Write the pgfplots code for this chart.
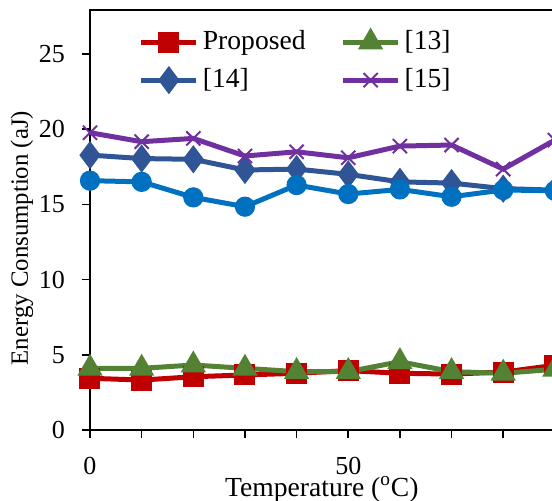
\documentclass[border=0pt]{standalone}
\usepackage{fontspec}
\setmainfont{Liberation Serif}
\usepackage{pgfplots}
\pgfplotsset{compat=1.18}

\definecolor{cProp}{HTML}{C00000}
\definecolor{cThirteen}{HTML}{548235}
\definecolor{cFourteen}{HTML}{2F5597}
\definecolor{cFifteen}{HTML}{7030A0}
\definecolor{cLight}{HTML}{0070C0}

\begin{document}
\begin{tikzpicture}
\begin{axis}[
    scale only axis, width=237.6pt, height=210pt,
    xmin=0, xmax=92, ymin=0, ymax=27.93,
    axis line style={line width=1pt},
    xtick={0,50}, minor xtick={10,20,...,90}, xtick pos=left,
    ytick={0,5,...,25}, ytick pos=left,
    tick align=outside, major tick length=4pt, minor tick length=4pt,
    tick style={line width=0.8pt, black},
    /pgf/number format/assume math mode=true,
    xticklabel style={font=\fontsize{13}{15}\selectfont},
    yticklabel style={font=\fontsize{13}{15}\selectfont},
    xticklabel shift=6pt, yticklabel shift=5pt,
    xlabel={Temperature (\textsuperscript{o}C)},
    ylabel={Energy Consumption (aJ)},
    xlabel style={font=\fontsize{13.8}{16}\selectfont, at={(axis description cs:0.488,-0.141)}, anchor=center},
    ylabel style={font=\fontsize{12.4}{14}\selectfont, at={(axis description cs:-0.143,0.457)}, anchor=center},
    legend columns=2, legend cell align=left,
    legend style={draw=none, fill=none, font=\fontsize{13.8}{16}\selectfont,
        at={(axis description cs:0.102,0.965)}, anchor=north west,
        inner sep=0pt, row sep=2pt,
        nodes={inner sep=2pt, text height=10pt, text depth=3pt},
        /tikz/every even column/.append style={column sep=15.5pt}},
    legend image code/.code={\draw[mark repeat=2,mark phase=2,#1] plot coordinates {(0pt,0pt) (13.75pt,0pt) (27.5pt,0pt)};},
]
\addplot[cProp, line width=2.5pt, mark=square*, mark size=4pt, mark options={solid}] coordinates {
(0,3.44)(10,3.32)(20,3.54)(30,3.66)(40,3.77)(50,3.95)(60,3.77)(70,3.72)(80,3.85)(90,4.3)};
\addlegendentry{Proposed}
\addplot[cThirteen, line width=2.5pt, mark=triangle*, mark size=4.8pt, mark options={solid}] coordinates {
(0,4.1)(10,4.1)(20,4.32)(30,4.1)(40,3.88)(50,3.88)(60,4.54)(70,3.88)(80,3.77)(90,4.04)};
\addlegendentry{[13]}
\addplot[cFourteen, line width=2.5pt, mark=diamond*, mark size=5pt, mark options={solid}] coordinates {
(0,18.28)(10,18.05)(20,18.0)(30,17.29)(40,17.35)(50,17.0)(60,16.5)(70,16.42)(80,16.05)(90,15.95)};
\addlegendentry{[14]}
\addplot[cFifteen, line width=2.5pt, mark=x, mark size=5pt, mark options={solid, line width=1pt}] coordinates {
(0,19.77)(10,19.17)(20,19.39)(30,18.22)(40,18.5)(50,18.1)(60,18.88)(70,18.95)(80,17.35)(90,19.28)};
\addlegendentry{[15]}
\addplot[cLight, line width=2.5pt, mark=*, mark size=3.8pt, mark options={solid}, forget plot] coordinates {
(0,16.58)(10,16.5)(20,15.47)(30,14.85)(40,16.29)(50,15.69)(60,16.0)(70,15.51)(80,15.96)(90,15.91)};
\end{axis}
\pgfresetboundingbox
\path (-45pt,-35.5pt) rectangle (231pt,215pt);
\end{tikzpicture}
\end{document}
